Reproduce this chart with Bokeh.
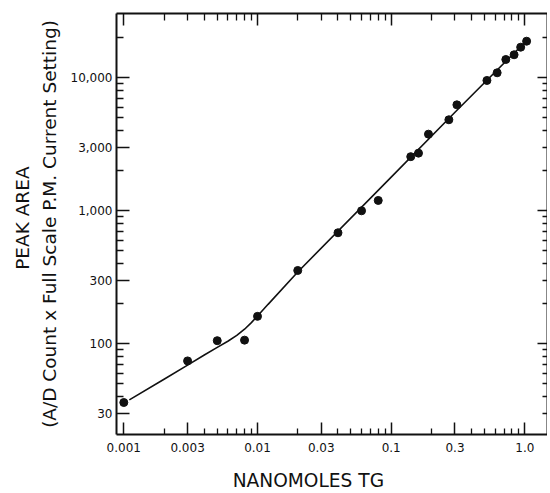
from bokeh.plotting import figure
from bokeh.models import LogAxis, FixedTicker, CustomJSTickFormatter
from bokeh.embed import file_html
from bokeh.resources import INLINE

# ---- data ----
nanomoles = [0.001, 0.003, 0.005, 0.008, 0.01, 0.02, 0.04, 0.06, 0.08, 0.14,
             0.16, 0.19, 0.27, 0.31, 0.52, 0.62, 0.72, 0.83, 0.93, 1.03]
peak_area = [36, 74, 105, 106, 160, 354, 680, 995, 1190, 2540,
             2700, 3750, 4810, 6230, 9500, 10850, 13660, 14820, 16900, 18750]

fit_x = [0.0011, 0.002, 0.003, 0.004, 0.005, 0.006, 0.007, 0.008, 0.009,
         0.01, 0.012, 0.02, 0.1, 0.3, 1.05]
fit_y = [37.7, 53.9, 68.8, 81.9, 93.5, 104, 115, 128, 143.5,
         161, 197, 345, 1782, 5482, 19300]

x_major_ticks = [0.001, 0.003, 0.01, 0.03, 0.1, 0.3, 1.0]
x_tick_labels = ["0.001", "0.003", "0.01", "0.03", "0.1", "0.3", "1.0"]
y_major_ticks = [30, 100, 300, 1000, 3000, 10000]
y_tick_labels = ["30", "100", "300", "1,000", "3,000", "10,000"]

x_title = "NANOMOLES TG"
y_title_1 = "PEAK AREA"
y_title_2 = "(A/D Count x Full Scale P.M. Current Setting)"

# ---- layout constants ----
FONT = "DejaVu Sans"
DEC_X = 133.7      # px per decade (x)
DEC_Y = 133.0      # px per decade (y)
FL, FT = 116, 13   # frame left / top on the page
FW, FH = 431, 421
x_lo = 0.001 * 10 ** (-7.3 / DEC_X)
x_hi = x_lo * 10 ** (FW / DEC_X)
y_lo = 100 * 10 ** (-(434 - 343) / DEC_Y)
y_hi = y_lo * 10 ** (FH / DEC_Y)
NBSP = "\u00a0"

x_minor = [m * 10.0 ** e for e in (-3, -2, -1) for m in (2, 4, 5, 6, 7, 8, 9)]
x_minor_all = [m * 10.0 ** e for e in (-3, -2, -1) for m in (2, 3, 4, 5, 6, 7, 8, 9)]
x_decades = [0.001, 0.01, 0.1, 1.0]
y_minor = [m * 10.0 ** e for e in (1, 2, 3) for m in (2, 4, 5, 6, 7, 8, 9)] + [20000]
y_minor_all = [m * 10.0 ** e for e in (1, 2, 3) for m in (2, 3, 4, 5, 6, 7, 8, 9)] + [20000]
y_decades = [100, 1000, 10000]

p = figure(x_axis_type="log", y_axis_type="log",
           x_range=(x_lo, x_hi), y_range=(y_lo, y_hi),
           frame_width=FW, frame_height=FH,
           min_border_left=FL, min_border_top=FT, min_border_bottom=493 - FT - FH,
           min_border_right=0,
           output_backend="svg", toolbar_location=None)
p.grid.visible = False
p.outline_line_color = None
p.background_fill_color = "white"
p.border_fill_color = "white"


def style_axis(ax, major_in, minor_in):
    ax.axis_line_width = 2
    ax.axis_line_color = "#111111"
    ax.major_tick_line_color = "#111111"
    ax.minor_tick_line_color = "#111111"
    ax.major_tick_line_width = 1.5
    ax.minor_tick_line_width = 1.3
    ax.major_tick_in = major_in
    ax.major_tick_out = 0
    ax.minor_tick_in = minor_in
    ax.minor_tick_out = 0
    ax.major_label_text_font = FONT
    ax.major_label_text_font_size = "12px"
    ax.major_label_text_color = "#111111"


def make_formatter(tick_vals, tick_labels):
    return CustomJSTickFormatter(args=dict(tv=tick_vals, lb=tick_labels), code="""
        let best = 0, bd = Infinity;
        for (let i = 0; i < tv.length; i++) {
            const d = Math.abs(Math.log10(tv[i]) - Math.log10(tick));
            if (d < bd) { bd = d; best = i; }
        }
        return lb[best];
    """)


xa = p.xaxis[0]
xa.ticker = FixedTicker(ticks=x_major_ticks, minor_ticks=x_minor)
xa.formatter = make_formatter(x_major_ticks, x_tick_labels)
style_axis(xa, 12, 6)
xa.major_label_standoff = 8
# title sits left of the frame centre in the reference: pad its right side
xa.axis_label = x_title + NBSP * 8
xa.axis_label_text_font = FONT
xa.axis_label_text_font_size = "18.6px"
xa.axis_label_text_font_style = "normal"
xa.axis_label_text_color = "#111111"
xa.axis_label_standoff = 15

ya = p.yaxis[0]
ya.ticker = FixedTicker(ticks=y_major_ticks, minor_ticks=y_minor)
ya.formatter = make_formatter(y_major_ticks, y_tick_labels)
style_axis(ya, 13, 7)
ya.major_label_standoff = 4
ya.axis_label = NBSP * 2 + y_title_1 + "\n" + y_title_2
ya.axis_label_text_font = FONT
ya.axis_label_text_font_size = "18.5px"
ya.axis_label_text_font_style = "normal"
ya.axis_label_text_color = "#111111"
ya.axis_label_text_line_height = 1.24
ya.axis_label_standoff = 8

top = LogAxis(ticker=FixedTicker(ticks=x_decades, minor_ticks=x_minor_all),
              formatter=CustomJSTickFormatter(code="return '';"))
style_axis(top, 12, 7)
top.major_label_standoff = 0
p.add_layout(top, "above")

right = LogAxis(ticker=FixedTicker(ticks=y_decades, minor_ticks=y_minor_all),
                formatter=CustomJSTickFormatter(code="return '';"))
style_axis(right, 10, 5)
right.major_label_standoff = 0
p.add_layout(right, "right")

# ---- data marks ----
p.line(fit_x, fit_y, line_width=1.6, line_color="#111111")
p.scatter(nanomoles, peak_area, size=8, fill_color="#111111", line_color="#111111")

open("out.html", "w").write(file_html(p, INLINE))
